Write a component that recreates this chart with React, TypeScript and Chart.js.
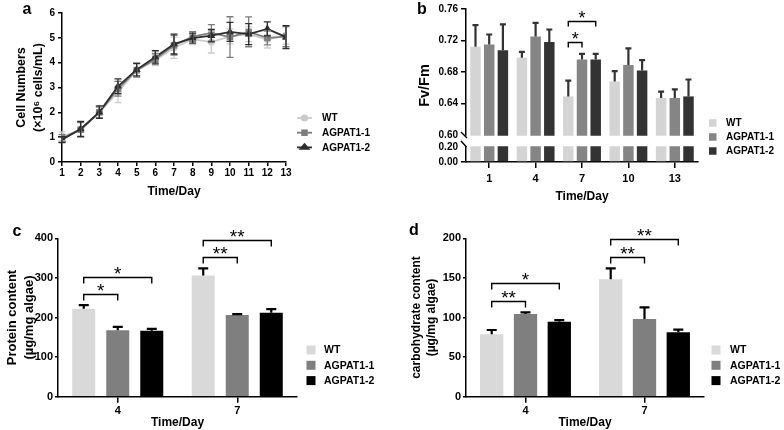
import React, { useEffect, useRef } from 'react';
import { Chart, registerables, LinearScale } from 'chart.js';

// ---------------- DATA ----------------
const seriesNames = ['WT', 'AGPAT1-1', 'AGPAT1-2'];

// Panel a: cell numbers (x10^6 cells/mL)
const daysA = [1, 2, 3, 4, 5, 6, 7, 8, 9, 10, 11, 12, 13];
const wtCells = [1.03, 1.3, 2.0, 2.82, 3.68, 4.1, 4.6, 4.95, 4.83, 5.06, 5.15, 4.93, 5.1];
const wtCellsSD = [0.18, 0.28, 0.2, 0.43, 0.25, 0.22, 0.43, 0.22, 0.44, 0.3, 0.3, 0.34, 0.35];
const ag1Cells = [0.95, 1.3, 2.0, 2.95, 3.7, 4.15, 4.7, 5.05, 5.2, 5.03, 5.24, 5.0, 5.05];
const ag1CellsSD = [0.15, 0.3, 0.22, 0.3, 0.28, 0.22, 0.4, 0.2, 0.33, 0.82, 0.6, 0.28, 0.4];
const ag2Cells = [0.9, 1.33, 2.01, 3.05, 3.72, 4.23, 4.75, 4.99, 5.09, 5.24, 5.15, 5.36, 5.03];
const ag2CellsSD = [0.12, 0.3, 0.25, 0.3, 0.25, 0.25, 0.4, 0.2, 0.25, 0.38, 0.42, 0.28, 0.46];

// Panel b: Fv/Fm
const daysB = ['1', '4', '7', '10', '13'];
const wtFv = [0.712, 0.698, 0.649, 0.668, 0.647];
const wtFvSD = [0.0275, 0.0075, 0.02, 0.013, 0.008];
const ag1Fv = [0.715, 0.725, 0.696, 0.689, 0.647];
const ag1FvSD = [0.0126, 0.0174, 0.007, 0.021, 0.011];
const ag2Fv = [0.7075, 0.718, 0.696, 0.682, 0.649];
const ag2FvSD = [0.033, 0.016, 0.007, 0.013, 0.0215];
const fvTicks = [0, 0.2, 0.6, 0.64, 0.68, 0.72, 0.76];

// Panels c, d
const daysCD = ['4', '7'];
const wtProtein = [222, 306];
const wtProteinSD = [9.5, 18];
const ag1Protein = [168, 206];
const ag1ProteinSD = [8.5, 2.5];
const ag2Protein = [166.5, 212];
const ag2ProteinSD = [5, 9];

const wtCarb = [78.8, 148.2];
const wtCarbSD = [5.4, 13.9];
const ag1Carb = [104.4, 98.1];
const ag1CarbSD = [2.1, 14.8];
const ag2Carb = [94.7, 81.3];
const ag2CarbSD = [2.1, 3.3];

// significance brackets: category index, dataset a, dataset b, level (data units), label
const sigB = [
  { cat: 2, a: 0, b: 1, level: 0.718, label: '*' },
  { cat: 2, a: 0, b: 2, level: 0.745, label: '*' },
];
const sigC = [
  { cat: 0, a: 0, b: 1, level: 259, label: '*' },
  { cat: 0, a: 0, b: 2, level: 303, label: '*' },
  { cat: 1, a: 0, b: 1, level: 353, label: '**' },
  { cat: 1, a: 0, b: 2, level: 396, label: '**' },
];
const sigD = [
  { cat: 0, a: 0, b: 1, level: 121, label: '**' },
  { cat: 0, a: 0, b: 2, level: 143, label: '*' },
  { cat: 1, a: 0, b: 1, level: 177, label: '**' },
  { cat: 1, a: 0, b: 2, level: 199, label: '**' },
];

// ---------------- STYLE ----------------
const FONT = "'Liberation Sans', Arial, Helvetica, sans-serif";
const lineColors = ['#cbcbcb', '#7d7d7d', '#2e2e2e'];
const barColorsB = ['#d4d4d4', '#858585', '#333333'];
const barColorsCD = ['#d9d9d9', '#7f7f7f', '#000000'];

// ---------------- CUSTOM SCALE (broken y axis) ----------------
class BrokenScale extends LinearScale {
  static id = 'broken';
  static defaults = LinearScale.defaults;
  buildTicks() {
    const vals = (this.options as any).tickValues as number[];
    return vals.map((value) => ({ value }));
  }
  getPixelForValue(value: any) {
    if (value === null || value === undefined || isNaN(value)) return NaN;
    const o: any = this.options;
    const top = this.top, bottom = this.bottom;
    const min = this.min, max = this.max;
    const { lowPx, gapPx, lowMax, highMin } = o;
    if (value <= lowMax) return bottom - ((value - min) / (lowMax - min)) * lowPx;
    if (value <= highMin) return bottom - lowPx - ((value - lowMax) / (highMin - lowMax)) * gapPx;
    const upperPx = bottom - top - lowPx - gapPx;
    return bottom - lowPx - gapPx - ((value - highMin) / (max - highMin)) * upperPx;
  }
  getValueForPixel(pixel: number) {
    const o: any = this.options;
    const top = this.top, bottom = this.bottom;
    const min = this.min, max = this.max;
    const { lowPx, gapPx, lowMax, highMin } = o;
    const d = bottom - pixel;
    if (d <= lowPx) return min + (d / lowPx) * (lowMax - min);
    if (d <= lowPx + gapPx) return lowMax + ((d - lowPx) / gapPx) * (highMin - lowMax);
    const upperPx = bottom - top - lowPx - gapPx;
    return highMin + ((d - lowPx - gapPx) / upperPx) * (max - highMin);
  }
}

Chart.register(...registerables, BrokenScale as any);

// ---------------- PLUGINS ----------------
const errorBarPlugin = {
  id: 'errorBars',
  afterDatasetsDraw(chart: any, _a: any, o: any) {
    const ctx = chart.ctx;
    chart.data.datasets.forEach((ds: any, i: number) => {
      if (!ds.errors) return;
      const meta = chart.getDatasetMeta(i);
      const ys = chart.scales[meta.yAxisID];
      ctx.save();
      ctx.strokeStyle = ds.errorColor || '#000';
      ctx.lineWidth = o.width;
      meta.data.forEach((el: any, j: number) => {
        const raw = ds.data[j];
        const v = typeof raw === 'number' ? raw : raw.y;
        const e = ds.errors[j];
        const x = el.x;
        const yHi = ys.getPixelForValue(v + e);
        const yLo = o.sym ? ys.getPixelForValue(v - e) : ys.getPixelForValue(v);
        ctx.beginPath();
        ctx.moveTo(x, yLo);
        ctx.lineTo(x, yHi);
        ctx.moveTo(x - o.cap, yHi);
        ctx.lineTo(x + o.cap, yHi);
        if (o.sym) {
          ctx.moveTo(x - o.cap, yLo);
          ctx.lineTo(x + o.cap, yLo);
        }
        ctx.stroke();
      });
      ctx.restore();
    });
  },
};

const brokenGapPlugin = {
  id: 'brokenGap',
  afterDatasetsDraw(chart: any) {
    const ys = chart.scales.y;
    const o: any = ys.options;
    if (ys.type !== 'broken') return;
    const ctx = chart.ctx;
    const { left, right } = chart.chartArea;
    const yHigh = ys.getPixelForValue(o.highMin);
    const yLow = ys.getPixelForValue(o.lowMax);
    ctx.save();
    ctx.fillStyle = '#ffffff';
    ctx.fillRect(left - 2, yHigh + 0.75, right - left + 4, yLow - yHigh - 1.5);
    ctx.strokeStyle = '#000';
    ctx.lineWidth = 1.4;
    ctx.beginPath();
    ctx.moveTo(left - 5, yHigh - 3);
    ctx.lineTo(left + 1, yHigh + 3);
    ctx.moveTo(left - 5, yLow - 6);
    ctx.lineTo(left + 0.5, yLow);
    ctx.stroke();
    ctx.restore();
  },
};

const sigPlugin = {
  id: 'sig',
  afterDatasetsDraw(chart: any, _a: any, o: any) {
    if (!o.items) return;
    const ctx = chart.ctx;
    const ys = chart.scales.y;
    ctx.save();
    ctx.strokeStyle = '#000';
    ctx.fillStyle = '#000';
    ctx.lineWidth = 1.4;
    ctx.font = `${o.fontSize}px ${FONT}`;
    ctx.textAlign = 'center';
    ctx.textBaseline = 'alphabetic';
    o.items.forEach((it: any) => {
      const xa = chart.getDatasetMeta(it.a).data[it.cat].x;
      const xb = chart.getDatasetMeta(it.b).data[it.cat].x;
      const y = Math.round(ys.getPixelForValue(it.level)) + 0.5;
      ctx.beginPath();
      ctx.moveTo(xa, y + o.drop);
      ctx.lineTo(xa, y);
      ctx.lineTo(xb, y);
      ctx.lineTo(xb, y + o.drop);
      ctx.stroke();
      ctx.fillText(it.label, (xa + xb) / 2, y - o.textOff);
    });
    ctx.restore();
  },
};

function drawMarker(ctx: CanvasRenderingContext2D, style: string, x: number, y: number, r: number) {
  ctx.beginPath();
  if (style === 'circle') {
    ctx.arc(x, y, r, 0, Math.PI * 2);
  } else if (style === 'rect') {
    const s = r * Math.SQRT1_2;
    ctx.rect(x - s, y - s, 2 * s, 2 * s);
  } else {
    const h = r * 1.5;
    ctx.moveTo(x, y - r);
    ctx.lineTo(x + h * 0.577 * 1.5, y + r * 0.5);
    ctx.lineTo(x - h * 0.577 * 1.5, y + r * 0.5);
    ctx.closePath();
  }
  ctx.fill();
}

const legendPlugin = {
  id: 'customLegend',
  afterDraw(chart: any, _a: any, o: any) {
    const ctx = chart.ctx;
    ctx.save();
    ctx.font = `bold ${o.fontSize}px ${FONT}`;
    ctx.textBaseline = 'middle';
    ctx.textAlign = 'left';
    seriesNames.forEach((name, i) => {
      const ds = chart.data.datasets[i];
      const y = o.y + i * o.dy;
      if (o.kind === 'line') {
        ctx.strokeStyle = ds.borderColor;
        ctx.lineWidth = 1.8;
        ctx.beginPath();
        ctx.moveTo(o.x, y);
        ctx.lineTo(o.x + o.len, y);
        ctx.stroke();
        ctx.fillStyle = ds.borderColor;
        drawMarker(ctx, ds.pointStyle, o.x + o.len / 2, y, ds.pointRadius);
      } else {
        ctx.fillStyle = ds.backgroundColor;
        ctx.fillRect(o.x, y - o.size / 2, o.size, o.size);
      }
      ctx.fillStyle = '#000';
      ctx.fillText(name, o.textX, y + 0.5);
    });
    ctx.restore();
  },
};

const panelLabelPlugin = {
  id: 'panelLabel',
  afterDraw(chart: any, _a: any, o: any) {
    const ctx = chart.ctx;
    ctx.save();
    ctx.font = `bold 16px ${FONT}`;
    ctx.fillStyle = '#000';
    ctx.textAlign = 'center';
    ctx.textBaseline = 'middle';
    ctx.fillText(o.text, o.x, o.y);
    ctx.restore();
  },
};

// ---------------- HELPERS ----------------
function axisBase(tickSize: number, tickLen: number, pad: number) {
  return {
    border: { display: true, color: '#000', width: 1.5 },
    grid: { display: true, drawOnChartArea: false, drawTicks: true, tickLength: tickLen, color: '#000', lineWidth: 1.5 },
    ticks: { color: '#000', font: { family: FONT, size: tickSize, weight: 'bold' }, padding: pad, autoSkip: false, maxRotation: 0 },
  };
}

function titleOpt(text: any, size: number, lh: number, padding: any) {
  return { display: true, text, color: '#000', font: { family: FONT, size, weight: 'bold', lineHeight: lh }, padding };
}

// ---------------- CONFIGS ----------------
function configA(): any {
  const styles = ['circle', 'rect', 'triangle'];
  const radii = [3.6, 4.6, 4.6];
  const means = [wtCells, ag1Cells, ag2Cells];
  const sds = [wtCellsSD, ag1CellsSD, ag2CellsSD];
  const datasets = seriesNames.map((name, i) => ({
    label: name,
    data: daysA.map((d, k) => ({ x: d, y: means[i][k] })),
    errors: sds[i],
    errorColor: lineColors[i],
    borderColor: lineColors[i],
    backgroundColor: lineColors[i],
    pointBackgroundColor: lineColors[i],
    pointBorderColor: lineColors[i],
    pointStyle: styles[i],
    pointRadius: radii[i],
    pointBorderWidth: 0,
    borderWidth: 1.8,
    tension: 0,
    order: 3 - i,
  }));
  const xb = axisBase(10, 4, 1);
  const yb = axisBase(10, 4, 3);
  return {
    type: 'line',
    data: { datasets },
    options: {
      responsive: false,
      animation: false,
      devicePixelRatio: 1,
      layout: { padding: { left: 0, top: 13, right: 106, bottom: 0 } },
      plugins: {
        legend: { display: false },
        tooltip: { enabled: false },
        errorBars: { cap: 3.5, width: 1.3, sym: true },
        customLegend: { kind: 'line', x: 297, len: 15, textX: 322, y: 118, dy: 14.7, fontSize: 10 },
        panelLabel: { text: 'a', x: 27, y: 10 },
      },
      scales: {
        x: {
          type: 'linear', min: 1, max: 13,
          ...xb,
          ticks: { ...xb.ticks, stepSize: 1 },
          afterFit: (s: any) => { s.height = 53; },
          title: titleOpt('Time/Day', 12, 1.2, { top: 0, bottom: 15.8 }),
        },
        y: {
          min: 0, max: 6,
          ...yb,
          ticks: { ...yb.ticks, stepSize: 1 },
          afterFit: (s: any) => { s.width = 62; },
          title: titleOpt(['Cell Numbers', '(×10⁶ cells/mL)'], 12.5, 1.3, { top: 13.9, bottom: 0 }),
        },
      },
    },
    plugins: [errorBarPlugin, legendPlugin, panelLabelPlugin],
  };
}

function configB(): any {
  const means = [wtFv, ag1Fv, ag2Fv];
  const sds = [wtFvSD, ag1FvSD, ag2FvSD];
  const datasets = seriesNames.map((name, i) => ({
    label: name,
    data: means[i],
    errors: sds[i],
    errorColor: '#333333',
    backgroundColor: barColorsB[i],
    borderWidth: 0,
    categoryPercentage: 0.886,
    barPercentage: 0.766,
  }));
  const xb = axisBase(11, 6, 4);
  const yb = axisBase(10, 5, 3);
  return {
    type: 'bar',
    data: { labels: daysB, datasets },
    options: {
      responsive: false,
      animation: false,
      devicePixelRatio: 1,
      layout: { padding: { left: 0, top: 5, right: 86, bottom: 0 } },
      plugins: {
        legend: { display: false },
        tooltip: { enabled: false },
        errorBars: { cap: 3, width: 2.2, sym: false },
        sig: { items: sigB, drop: 5, fontSize: 18, textOff: -2.5 },
        customLegend: { kind: 'box', x: 317, size: 7.5, textX: 334, y: 123, dy: 14, fontSize: 10 },
        panelLabel: { text: 'b', x: 30, y: 10 },
      },
      scales: {
        x: {
          ...xb,
          grid: { ...xb.grid, offset: false },
          afterFit: (s: any) => { s.height = 53; },
          title: titleOpt('Time/Day', 12, 1.2, { top: 0, bottom: 11 }),
        },
        y: {
          type: 'broken',
          min: 0, max: 0.76,
          lowMax: 0.2, highMin: 0.6, lowPx: 15, gapPx: 12,
          tickValues: fvTicks,
          ...yb,
          grid: {
            ...yb.grid,
            color: (c: any) => (c.tick && (c.tick.value === 0.2 || c.tick.value === 0.6) ? 'rgba(0,0,0,0)' : '#000'),
          },
          ticks: { ...yb.ticks, callback: (v: any) => Number(v).toFixed(2) },
          afterFit: (s: any) => { s.width = 74; },
          title: titleOpt('Fv/Fm', 14.5, 1.2, { top: 24, bottom: 0 }),
        },
      },
    },
    plugins: [errorBarPlugin, brokenGapPlugin, sigPlugin, legendPlugin, panelLabelPlugin],
  };
}

function configCD(kind: 'c' | 'd'): any {
  const isC = kind === 'c';
  const means = isC ? [wtProtein, ag1Protein, ag2Protein] : [wtCarb, ag1Carb, ag2Carb];
  const sds = isC ? [wtProteinSD, ag1ProteinSD, ag2ProteinSD] : [wtCarbSD, ag1CarbSD, ag2CarbSD];
  const datasets = seriesNames.map((name, i) => ({
    label: name,
    data: means[i],
    errors: sds[i],
    errorColor: '#000',
    backgroundColor: barColorsCD[i],
    borderWidth: 0,
    categoryPercentage: isC ? 0.854 : 0.852,
    barPercentage: isC ? 0.676 : 0.69,
  }));
  const xb = axisBase(11, 6, 2);
  const yb = axisBase(11, 3, 2);
  return {
    type: 'bar',
    data: { labels: daysCD, datasets },
    options: {
      responsive: false,
      animation: false,
      devicePixelRatio: 1,
      layout: { padding: { left: 0, top: 23.3, right: isC ? 95 : 80, bottom: 0 } },
      plugins: {
        legend: { display: false },
        tooltip: { enabled: false },
        errorBars: { cap: 5, width: 2.2, sym: false },
        sig: { items: isC ? sigC : sigD, drop: 6, fontSize: 19, textOff: -2.5 },
        customLegend: isC
          ? { kind: 'box', x: 306.5, size: 9, textX: 324, y: 135, dy: 15.3, fontSize: 10.5 }
          : { kind: 'box', x: 319.5, size: 9, textX: 338, y: 135, dy: 15.3, fontSize: 10.5 },
        panelLabel: isC ? { text: 'c', x: 17, y: 17 } : { text: 'd', x: 22, y: 16 },
      },
      scales: {
        x: {
          ...xb,
          grid: { ...xb.grid, offset: false },
          afterFit: (s: any) => { s.height = 33.3; },
          title: titleOpt('Time/Day', 12, 1.0, { top: 0, bottom: 1.7 }),
        },
        y: {
          min: 0, max: isC ? 400 : 200,
          ...yb,
          ticks: { ...yb.ticks, stepSize: isC ? 100 : 50 },
          afterFit: (s: any) => { s.width = isC ? 58 : 74; },
          title: isC
            ? titleOpt(['Protein content', '(µg/mg algae)'], 13, 1.3, { top: 4, bottom: 0 })
            : titleOpt(['carbohydrate content', '(µg/mg algae)'], 12, 1.3, { top: 16.5, bottom: 0 }),
        },
      },
    },
    plugins: [errorBarPlugin, sigPlugin, legendPlugin, panelLabelPlugin],
  };
}

// ---------------- COMPONENTS ----------------
function ChartBox({ make, left, top, width, height }: any) {
  const ref = useRef<HTMLCanvasElement>(null);
  useEffect(() => {
    const chart = new Chart(ref.current as HTMLCanvasElement, make());
    return () => chart.destroy();
  }, []);
  return (
    <canvas
      ref={ref}
      width={width}
      height={height}
      style={{ position: 'absolute', left, top, width, height, display: 'block' }}
    />
  );
}

export default function App() {
  return (
    <div style={{ position: 'fixed', left: 0, top: 0, width: 784, height: 430, background: '#fff', overflow: 'hidden' }}>
      <ChartBox make={configA} left={0} top={0} width={392} height={215} />
      <ChartBox make={configB} left={392} top={0} width={392} height={215} />
      <ChartBox make={() => configCD('c')} left={0} top={215} width={392} height={215} />
      <ChartBox make={() => configCD('d')} left={392} top={215} width={392} height={215} />
    </div>
  );
}
